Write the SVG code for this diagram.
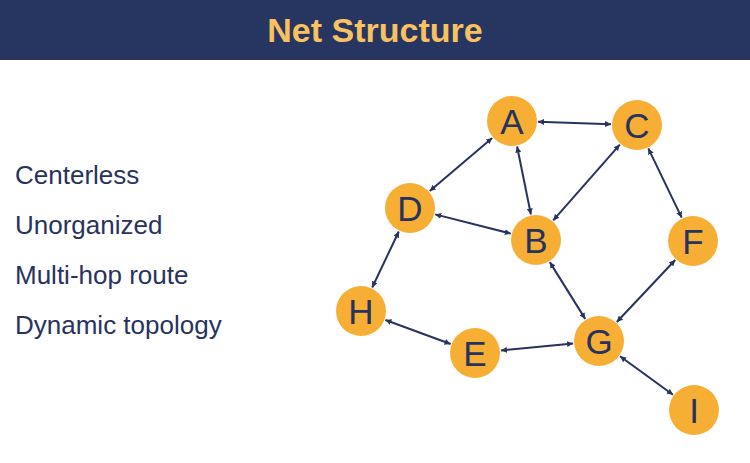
<svg xmlns="http://www.w3.org/2000/svg" width="750" height="463" viewBox="0 0 750 463">
<style>
.n circle{fill:#F7AE35}
.n text{font-family:"Liberation Sans",Arial,sans-serif;font-size:35px;fill:#27335E;text-anchor:middle}
.l{font-family:"Liberation Sans",Arial,sans-serif;font-size:26px;fill:#27335E}
#edges line{stroke:#27335E;stroke-width:2;marker-start:url(#ar);marker-end:url(#ar)}
</style>
<defs><marker id="ar" viewBox="0 0 10 10" refX="10" refY="5" markerWidth="6" markerHeight="6" orient="auto-start-reverse" markerUnits="userSpaceOnUse"><path d="M0,0L10,5L0,10z" fill="#27335E"/></marker></defs>
<rect width="750" height="463" fill="#fff"/>
<rect width="750" height="60" fill="#263660"/>
<text x="375" y="42" font-family="Liberation Sans,Arial,sans-serif" font-weight="bold" font-size="34" fill="#F9C160" text-anchor="middle">Net Structure</text>
<text class="l" x="15" y="184">Centerless</text>
<text class="l" x="15" y="234">Unorganized</text>
<text class="l" x="15" y="284">Multi-hop route</text>
<text class="l" x="15" y="334">Dynamic topology</text>
<g id="edges">
<line x1="538" y1="121.8" x2="611" y2="124.2"/>
<line x1="492.2" y1="137.9" x2="429.8" y2="191.1"/>
<line x1="517.1" y1="146.5" x2="530.9" y2="214.5"/>
<line x1="619.8" y1="144.6" x2="553.2" y2="220.4"/>
<line x1="648.3" y1="148.4" x2="681.7" y2="217.6"/>
<line x1="435.2" y1="214.4" x2="510.8" y2="233.6"/>
<line x1="398.8" y1="231.5" x2="372.2" y2="287.5"/>
<line x1="549.8" y1="262.1" x2="585.2" y2="318.9"/>
<line x1="675.2" y1="260" x2="616.8" y2="322"/>
<line x1="385.4" y1="320" x2="450.6" y2="344"/>
<line x1="500.9" y1="350.5" x2="573.1" y2="343.5"/>
<line x1="620" y1="356.3" x2="673" y2="394.7"/>
</g>
<g id="A" class="n"><circle cx="512" cy="121" r="25"/><text x="512" y="134">A</text></g>
<g id="C" class="n"><circle cx="637" cy="125" r="25"/><text x="637" y="138">C</text></g>
<g id="D" class="n"><circle cx="410" cy="208" r="25"/><text x="410" y="221">D</text></g>
<g id="B" class="n"><circle cx="536" cy="240" r="25"/><text x="536" y="253">B</text></g>
<g id="F" class="n"><circle cx="693" cy="241" r="25"/><text x="693" y="254">F</text></g>
<g id="H" class="n"><circle cx="361" cy="311" r="25"/><text x="361" y="324">H</text></g>
<g id="E" class="n"><circle cx="475" cy="353" r="25"/><text x="475" y="366">E</text></g>
<g id="G" class="n"><circle cx="599" cy="341" r="25"/><text x="599" y="354">G</text></g>
<g id="I" class="n"><circle cx="694" cy="410" r="25"/><text x="694" y="423">I</text></g>
</svg>
